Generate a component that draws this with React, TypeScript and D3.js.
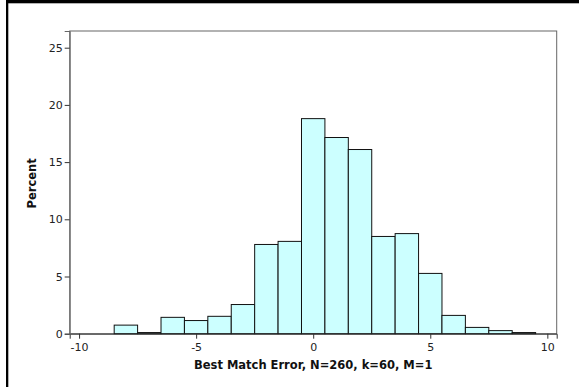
import React, { useEffect, useRef } from 'react';
import * as d3 from 'd3';

// histogram bins (left edge) and percent per bin
const binStarts = [-8.5, -7.5, -6.5, -5.5, -4.5, -3.5, -2.5, -1.5, -0.5, 0.5, 1.5, 2.5, 3.5, 4.5, 5.5, 6.5, 7.5, 8.5];
const binWidth = 1;
const percents = [0.75, 0.1, 1.43, 1.15, 1.52, 2.55, 7.8, 8.07, 18.8, 17.15, 16.1, 8.5, 8.75, 5.27, 1.6, 0.55, 0.27, 0.1];

const xTicks = [-10, -5, 0, 5, 10];
const yTicks = [0, 5, 10, 15, 20, 25];
const xLabel = 'Best Match Error, N=260, k=60, M=1';
const yLabel = 'Percent';

const App: React.FC = () => {
  const svgRef = useRef<SVGSVGElement>(null);

  useEffect(() => {
    if (!svgRef.current) return;
    const width = 579;
    const height = 387;
    const margin = { top: 31, right: 22.3, bottom: 53.3, left: 69.7 };

    const svg = d3.select(svgRef.current);
    svg.selectAll('*').remove();

    const x = d3.scaleLinear().domain([-10.4, 10.4]).range([margin.left, width - margin.right]);
    const y = d3.scaleLinear().domain([0, 26.46]).range([height - margin.bottom, margin.top]);

    const font = 'Verdana, "DejaVu Sans", sans-serif';

    // frame lines (top and left only, as in the screenshot)
    svg.append('rect').attr('x', 6).attr('y', 0).attr('width', width - 6).attr('height', 3.3).attr('fill', 'black');
    svg.append('rect').attr('x', 6).attr('y', 0).attr('width', 2.3).attr('height', height).attr('fill', 'black');

    // plot frame
    svg.append('rect')
      .attr('x', x(-10.4)).attr('y', y(26.46))
      .attr('width', x(10.4) - x(-10.4)).attr('height', y(0) - y(26.46))
      .attr('fill', 'none')
      .attr('stroke', '#666')
      .attr('stroke-width', 1);

    // bars
    svg.selectAll('rect.bar')
      .data(binStarts)
      .enter()
      .append('rect')
      .attr('class', 'bar')
      .attr('x', d => x(d))
      .attr('y', (d, i) => y(percents[i]))
      .attr('width', d => x(d + binWidth) - x(d))
      .attr('height', (d, i) => y(0) - y(percents[i]))
      .attr('fill', '#ccffff')
      .attr('stroke', '#111')
      .attr('stroke-width', 1);

    // x axis
    const xAxis = svg.append('g')
      .attr('transform', `translate(0,${y(0)})`)
      .call(d3.axisBottom(x).tickValues(xTicks).tickSize(5).tickPadding(5).tickFormat(d => String(d)));
    xAxis.select('.domain').attr('stroke', '#333');
    xAxis.selectAll('line').attr('stroke', '#333');
    xAxis.selectAll('text').attr('font-family', font).attr('font-size', 11).attr('fill', '#222');

    // y axis
    const yAxis = svg.append('g')
      .attr('transform', `translate(${x(-10.4)},0)`)
      .call(d3.axisLeft(y).tickValues(yTicks).tickSize(5).tickPadding(2).tickFormat(d => String(d)));
    yAxis.select('.domain').attr('stroke', '#666');
    yAxis.selectAll('line').attr('stroke', '#333');
    yAxis.selectAll('text').attr('font-family', font).attr('font-size', 11).attr('fill', '#222');

    // axis titles
    svg.append('text')
      .attr('x', (x(-10.4) + x(10.4)) / 2)
      .attr('y', 369)
      .attr('text-anchor', 'middle')
      .attr('font-family', font)
      .attr('font-size', 11.5)
      .attr('font-weight', 'bold')
      .attr('fill', '#111')
      .text(xLabel);

    svg.append('text')
      .attr('transform', `translate(36,${(y(0) + y(26.46)) / 2 + 1}) rotate(-90)`)
      .attr('text-anchor', 'middle')
      .attr('font-family', font)
      .attr('font-size', 11.5)
      .attr('font-weight', 'bold')
      .attr('fill', '#111')
      .text(yLabel);
  }, []);

  return (
    <svg
      ref={svgRef}
      width={579}
      height={387}
      style={{ position: 'absolute', left: 0, top: 0, display: 'block' }}
    />
  );
};

export default App;
